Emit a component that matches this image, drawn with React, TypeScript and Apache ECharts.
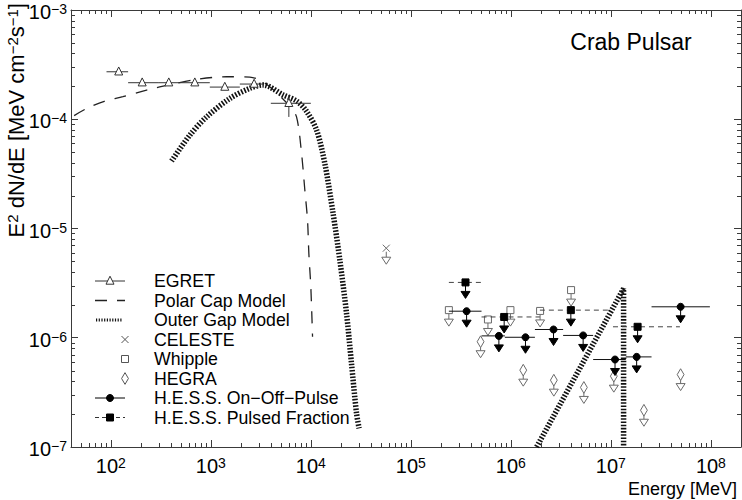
import React, { useEffect, useRef } from "react";
import * as echarts from "echarts";

const FONT = '"Liberation Sans", Arial, Helvetica, sans-serif';
const AXIS_COLOR = "#3a3a3a";

// ---- axes ----
const X_MIN = 40;
const X_MAX = 2e8;
const Y_MIN = 1e-7;
const Y_MAX = 1e-3;
const X_DECADES = [2, 3, 4, 5, 6, 7, 8];
const Y_DECADES = [-7, -6, -5, -4, -3];
const X_MINOR_DECADES = [1, 2, 3, 4, 5, 6, 7];
const Y_MINOR_DECADES = [-7, -6, -5, -4];
const MINOR_STEPS = [2, 3, 4, 5, 6, 7, 8, 9];

// ---- EGRET ----
const EGRET_E = [120, 206, 380, 692, 1380, 2710, 6030];
const EGRET_F = [2.72e-4, 2.16e-4, 2.16e-4, 2.16e-4, 1.97e-4, 2.1e-4, 1.4e-4];
const EGRET_E_LO = [90.6, 149, 297, 490, 977, 1950, 3980];
const EGRET_E_HI = [149, 297, 490, 977, 1950, 3330, 10000];
const EGRET_F_LO = [2.72e-4, 2.16e-4, 2.16e-4, 2.16e-4, 1.97e-4, 2.1e-4, 1.05e-4];
const EGRET_F_HI = [2.72e-4, 2.16e-4, 2.16e-4, 2.16e-4, 1.97e-4, 2.1e-4, 1.67e-4];

// ---- Polar Cap Model ----
const POLAR_E = [43, 58, 86, 132, 228, 417, 719, 1435, 2455, 3467, 6026, 7194, 8072, 8710, 9268, 9550, 10000, 10400];
const POLAR_F = [1.08e-4, 1.26e-4, 1.46e-4, 1.61e-4, 1.85e-4, 2.1e-4, 2.32e-4, 2.45e-4, 2.43e-4, 2.15e-4, 1.35e-4, 1.05e-4, 4.9e-5, 2.25e-5, 1.19e-5, 5.96e-6, 2.9e-6, 1.02e-6];

// ---- Outer Gap Model ----
const OUTER_E = [405, 617, 906, 1549, 2455, 3334, 5284, 7194, 8913, 11400, 13800, 16700, 19500, 22750, 25500, 28640, 30400];
const OUTER_F = [4.14e-5, 7.16e-5, 1.05e-4, 1.55e-4, 1.92e-4, 2.06e-4, 1.67e-4, 1.47e-4, 1.21e-4, 8.0e-5, 3.94e-5, 1.37e-5, 5.14e-6, 1.67e-6, 5.82e-7, 2.03e-7, 1.48e-7];
const OUTER_IC_E = [1.81e6, 1.34e7, 1.34e7];
const OUTER_IC_F = [1e-7, 2.82e-6, 1e-7];

// ---- CELESTE (upper limit) ----
const CELESTE_E = [5.68e4];
const CELESTE_F = [6.6e-6];

// ---- Whipple (upper limits) ----
const WHIPPLE_E = [2.4e5, 5.9e5, 9.9e5, 1.96e6, 4.0e6];
const WHIPPLE_F = [1.79e-6, 1.47e-6, 1.79e-6, 1.76e-6, 2.73e-6];

// ---- HEGRA (upper limits) ----
const HEGRA_E = [4.98e5, 1.33e6, 2.69e6, 5.37e6, 1.07e7, 2.14e7, 4.98e7];
const HEGRA_F = [9.2e-7, 5.05e-7, 4.09e-7, 3.51e-7, 4.45e-7, 2.17e-7, 4.6e-7];

// ---- H.E.S.S. On-Off-Pulse (upper limits) ----
const HESS_ON_E = [3.61e5, 7.59e5, 1.4e6, 2.67e6, 5.28e6, 1.1e7, 1.81e7, 4.98e7];
const HESS_ON_F = [1.75e-6, 1.04e-6, 1.01e-6, 1.19e-6, 1.05e-6, 6.32e-7, 6.68e-7, 1.92e-6];
const HESS_ON_E_LO = [2.4e5, 5.09e5, 8.71e5, 1.74e6, 3.33e6, 6.65e6, 1.41e7, 2.55e7];
const HESS_ON_E_HI = [5.09e5, 8.71e5, 1.74e6, 3.33e6, 6.65e6, 1.41e7, 2.55e7, 9.77e7];

// ---- H.E.S.S. Pulsed Fraction (upper limits) ----
const HESS_PF_E = [3.52e5, 8.57e5, 3.98e6, 1.85e7];
const HESS_PF_F = [3.21e-6, 1.55e-6, 1.79e-6, 1.26e-6];
const HESS_PF_E_LO = [2.4e5, 5.09e5, 1.95e6, 1.05e7];
const HESS_PF_E_HI = [5.09e5, 1.95e6, 9.33e6, 4.9e7];

// ---- legend ----
const LEGEND_LABELS = [
  "EGRET",
  "Polar Cap Model",
  "Outer Gap Model",
  "CELESTE",
  "Whipple",
  "HEGRA",
  "H.E.S.S. On\u2212Off\u2212Pulse",
  "H.E.S.S. Pulsed Fraction",
];

type MarkerKind = "tri" | "circle" | "square" | "diamond" | "cross";

function marker(kind: MarkerKind, cx: number, cy: number, s: number, fill: string, stroke: string): any {
  const lw = 1;
  switch (kind) {
    case "tri":
      return { type: "polygon", shape: { points: [[cx, cy - s * 0.6], [cx - s * 0.5, cy + s * 0.4], [cx + s * 0.5, cy + s * 0.4]] }, style: { fill, stroke, lineWidth: lw } };
    case "circle":
      return { type: "circle", shape: { cx, cy, r: s / 2 }, style: { fill, stroke, lineWidth: lw } };
    case "square":
      return { type: "rect", shape: { x: cx - s / 2, y: cy - s / 2, width: s, height: s }, style: { fill, stroke, lineWidth: lw } };
    case "diamond":
      return { type: "polygon", shape: { points: [[cx, cy - s * 0.65], [cx + s * 0.38, cy], [cx, cy + s * 0.65], [cx - s * 0.38, cy]] }, style: { fill, stroke, lineWidth: lw } };
    case "cross":
    default:
      return {
        type: "group",
        children: [
          { type: "line", shape: { x1: cx - s / 2, y1: cy - s / 2, x2: cx + s / 2, y2: cy + s / 2 }, style: { stroke, lineWidth: lw } },
          { type: "line", shape: { x1: cx - s / 2, y1: cy + s / 2, x2: cx + s / 2, y2: cy - s / 2 }, style: { stroke, lineWidth: lw } },
        ],
      };
  }
}

function upperArrow(cx: number, cy: number, startOff: number, fill: string, stroke: string): any[] {
  return [
    { type: "line", shape: { x1: cx, y1: cy + startOff, x2: cx, y2: cy + 9 }, style: { stroke, lineWidth: 1 } },
    { type: "polygon", shape: { points: [[cx - 4.5, cy + 9], [cx + 4.5, cy + 9], [cx, cy + 16]] }, style: { fill, stroke, lineWidth: 1 } },
  ];
}

interface PStyle {
  kind: MarkerKind;
  size: number;
  fill: string;
  stroke: string;
  barColor: string;
  barDash?: number[];
  ul: boolean;
  ulFill: string;
  ulStroke: string;
  ulStart: number;
}

function makeRender(st: PStyle) {
  return (params: any, api: any) => {
    const x = api.value(0);
    const y = api.value(1);
    const xlo = api.value(2);
    const xhi = api.value(3);
    const ylo = api.value(4);
    const yhi = api.value(5);
    const c = api.coord([x, y]);
    const children: any[] = [];
    if (xlo > 0 && xhi > 0 && xlo !== xhi) {
      const a = api.coord([xlo, y]);
      const b = api.coord([xhi, y]);
      children.push({ type: "line", shape: { x1: a[0], y1: c[1], x2: b[0], y2: c[1] }, style: { stroke: st.barColor, lineWidth: 1, lineDash: st.barDash || null } });
    }
    if (ylo > 0 && yhi > 0 && ylo !== yhi) {
      const a = api.coord([x, ylo]);
      const b = api.coord([x, yhi]);
      children.push({ type: "line", shape: { x1: c[0], y1: a[1], x2: c[0], y2: b[1] }, style: { stroke: st.barColor, lineWidth: 1 } });
    }
    if (st.ul) children.push(...upperArrow(c[0], c[1], st.ulStart, st.ulFill, st.ulStroke));
    children.push(marker(st.kind, c[0], c[1], st.size, st.fill, st.stroke));
    return { type: "group", children };
  };
}

function rows(E: number[], F: number[], ELo?: number[], EHi?: number[], FLo?: number[], FHi?: number[]) {
  return E.map((e, i) => [e, F[i], ELo ? ELo[i] : e, EHi ? EHi[i] : e, FLo ? FLo[i] : F[i], FHi ? FHi[i] : F[i]]);
}

function supText(exp: number) {
  return exp < 0 ? "\u2212" + Math.abs(exp) : String(exp);
}

function makeFormatter(decades: number[]) {
  return (v: number) => {
    const l = Math.log10(v);
    const e = Math.round(l);
    if (Math.abs(l - e) > 1e-6 || decades.indexOf(e) < 0) return "";
    return `{b|10}{s|${supText(e)}}`;
  };
}

const labelRich = {
  b: { fontSize: 20, fontFamily: FONT, color: "#000", lineHeight: 20, verticalAlign: "bottom" },
  s: { fontSize: 14, fontFamily: FONT, color: "#000", lineHeight: 10, verticalAlign: "top" },
};

function tickSeries(values: number[][], axis: "x" | "y") {
  return {
    type: "custom",
    coordinateSystem: "cartesian2d",
    silent: true,
    clip: false,
    z: 10,
    data: values,
    encode: { x: 0, y: 1 },
    renderItem: (params: any, api: any) => {
      const cs = params.coordSys;
      const p = api.coord([api.value(0), api.value(1)]);
      const len = 4;
      const st = { stroke: AXIS_COLOR, lineWidth: 1 };
      if (axis === "x") {
        const px = Math.round(p[0]) + 0.5;
        const yb = cs.y + cs.height;
        const yt = cs.y;
        return {
          type: "group",
          children: [
            { type: "line", shape: { x1: px, y1: yb, x2: px, y2: yb - len }, style: st },
            { type: "line", shape: { x1: px, y1: yt, x2: px, y2: yt + len }, style: st },
          ],
        };
      }
      const py = Math.round(p[1]) + 0.5;
      const xl = cs.x;
      const xr = cs.x + cs.width;
      return {
        type: "group",
        children: [
          { type: "line", shape: { x1: xl, y1: py, x2: xl + len, y2: py }, style: st },
          { type: "line", shape: { x1: xr, y1: py, x2: xr - len, y2: py }, style: st },
        ],
      };
    },
  };
}

function buildLegend(): any[] {
  const els: any[] = [];
  const y0 = 281;
  const step = 19.5;
  const lx1 = 95;
  const lx2 = 125;
  const mid = 110;
  const px = 125;
  LEGEND_LABELS.forEach((label, i) => {
    const y = y0 + i * step;
    els.push({
      type: "text",
      x: 154,
      y,
      style: { text: label, fontSize: 17.7, fontFamily: FONT, fill: "#000", align: "left", verticalAlign: "middle" },
    });
    if (i === 0) {
      els.push({ type: "line", shape: { x1: lx1, y1: y, x2: lx2, y2: y }, style: { stroke: "#333", lineWidth: 1 } });
      els.push(marker("tri", mid, y, 8, "#fff", "#333"));
    } else if (i === 1) {
      els.push({ type: "line", shape: { x1: lx1, y1: y, x2: lx2, y2: y }, style: { stroke: "#222", lineWidth: 1.3, lineDash: [12, 10] } });
    } else if (i === 2) {
      els.push({ type: "line", shape: { x1: lx1 + 1, y1: y, x2: lx2 - 2, y2: y }, style: { stroke: "#111", lineWidth: 3, lineDash: [1.2, 1.5] } });
    } else if (i === 3) {
      els.push(marker("cross", px, y, 7, "none", "#555"));
    } else if (i === 4) {
      els.push(marker("square", px, y, 7, "none", "#555"));
    } else if (i === 5) {
      els.push(marker("diamond", px, y, 9, "none", "#555"));
    } else if (i === 6) {
      els.push({ type: "line", shape: { x1: lx1, y1: y, x2: lx2, y2: y }, style: { stroke: "#000", lineWidth: 1 } });
      els.push(marker("circle", mid, y, 7, "#000", "#000"));
    } else {
      els.push({ type: "line", shape: { x1: lx1, y1: y, x2: lx2, y2: y }, style: { stroke: "#333", lineWidth: 1, lineDash: [4, 3] } });
      els.push(marker("square", mid, y, 7, "#000", "#000"));
    }
  });
  return els;
}

export default function App() {
  const ref = useRef<HTMLDivElement>(null);

  useEffect(() => {
    if (!ref.current) return;
    const chart = echarts.init(ref.current, null, { renderer: "svg" });

    const xMinor: number[][] = [];
    X_MINOR_DECADES.forEach((d) =>
      MINOR_STEPS.forEach((m) => {
        const v = m * Math.pow(10, d);
        if (v > X_MIN && v < X_MAX) xMinor.push([v, 1e-5]);
      })
    );
    const yMinor: number[][] = [];
    Y_MINOR_DECADES.forEach((d) =>
      MINOR_STEPS.forEach((m) => {
        const v = m * Math.pow(10, d);
        if (v > Y_MIN && v < Y_MAX) yMinor.push([1000, v]);
      })
    );

    const axisBase = {
      type: "log",
      logBase: 10,
      splitNumber: 5,
      axisLine: { show: true, onZero: false, lineStyle: { color: AXIS_COLOR, width: 1 } },
      axisTick: { show: true, inside: true, length: 7, lineStyle: { color: AXIS_COLOR, width: 1 } },
      minorTick: { show: false },
      splitLine: { show: false },
      minorSplitLine: { show: false },
    };

    const openGray = "#6a6a6a";

    const option: any = {
      animation: false,
      backgroundColor: "#fff",
      textStyle: { fontFamily: FONT },
      grid: { left: 71, top: 10, width: 670, height: 437, containLabel: false, outerBoundsMode: "none" },
      xAxis: [
        {
          ...axisBase,
          position: "bottom",
          min: X_MIN,
          max: X_MAX,
          axisLabel: { show: true, formatter: makeFormatter(X_DECADES), showMinLabel: false, showMaxLabel: false, margin: 9, rich: labelRich, hideOverlap: false },
        },
        { ...axisBase, position: "top", min: X_MIN, max: X_MAX, axisLabel: { show: false } },
      ],
      yAxis: [
        {
          ...axisBase,
          position: "left",
          min: Y_MIN,
          max: Y_MAX,
          axisLabel: { show: true, formatter: makeFormatter(Y_DECADES), margin: 4, padding: [4, 0, 0, 0], rich: labelRich, hideOverlap: false },
        },
        { ...axisBase, position: "right", min: Y_MIN, max: Y_MAX, axisLabel: { show: false } },
      ],
      series: [
        tickSeries(xMinor, "x"),
        tickSeries(yMinor, "y"),
        {
          type: "line",
          name: "Polar Cap Model",
          data: POLAR_E.map((e, i) => [e, POLAR_F[i]]),
          symbol: "none",
          smooth: 0.3,
          lineStyle: { color: "#222", width: 1.3, type: [12, 10] },
          z: 3,
        },
        {
          type: "line",
          name: "Outer Gap Model",
          data: OUTER_E.map((e, i) => [e, OUTER_F[i]]),
          symbol: "none",
          smooth: 0.3,
          lineStyle: { color: "#111", width: 5.5, type: [1.6, 1.6], cap: "butt" },
          z: 3,
        },
        {
          type: "line",
          name: "Outer Gap Model IC",
          data: OUTER_IC_E.map((e, i) => [e, OUTER_IC_F[i]]),
          symbol: "none",
          lineStyle: { color: "#111", width: 5.5, type: [1.6, 1.6], cap: "butt" },
          z: 3,
        },
        {
          type: "custom",
          name: "EGRET",
          coordinateSystem: "cartesian2d",
          data: rows(EGRET_E, EGRET_F, EGRET_E_LO, EGRET_E_HI, EGRET_F_LO, EGRET_F_HI),
          encode: { x: 0, y: 1 },
          renderItem: makeRender({ kind: "tri", size: 8, fill: "#fff", stroke: "#333", barColor: "#333", ul: false, ulFill: "none", ulStroke: "#333", ulStart: 0 }),
          z: 4,
        },
        {
          type: "custom",
          name: "CELESTE",
          coordinateSystem: "cartesian2d",
          data: rows(CELESTE_E, CELESTE_F),
          encode: { x: 0, y: 1 },
          renderItem: makeRender({ kind: "cross", size: 7, fill: "none", stroke: openGray, barColor: openGray, ul: true, ulFill: "#fff", ulStroke: openGray, ulStart: 3.5 }),
          z: 4,
        },
        {
          type: "custom",
          name: "Whipple",
          coordinateSystem: "cartesian2d",
          data: rows(WHIPPLE_E, WHIPPLE_F),
          encode: { x: 0, y: 1 },
          renderItem: makeRender({ kind: "square", size: 7, fill: "#fff", stroke: openGray, barColor: openGray, ul: true, ulFill: "#fff", ulStroke: openGray, ulStart: 3.5 }),
          z: 4,
        },
        {
          type: "custom",
          name: "HEGRA",
          coordinateSystem: "cartesian2d",
          data: rows(HEGRA_E, HEGRA_F),
          encode: { x: 0, y: 1 },
          renderItem: makeRender({ kind: "diamond", size: 9, fill: "#fff", stroke: openGray, barColor: openGray, ul: true, ulFill: "#fff", ulStroke: openGray, ulStart: 5.5 }),
          z: 4,
        },
        {
          type: "custom",
          name: "H.E.S.S. Pulsed Fraction",
          coordinateSystem: "cartesian2d",
          data: rows(HESS_PF_E, HESS_PF_F, HESS_PF_E_LO, HESS_PF_E_HI),
          encode: { x: 0, y: 1 },
          renderItem: makeRender({ kind: "square", size: 7, fill: "#000", stroke: "#000", barColor: "#444", barDash: [5, 4], ul: true, ulFill: "#000", ulStroke: "#000", ulStart: 0 }),
          z: 5,
        },
        {
          type: "custom",
          name: "H.E.S.S. On-Off-Pulse",
          coordinateSystem: "cartesian2d",
          data: rows(HESS_ON_E, HESS_ON_F, HESS_ON_E_LO, HESS_ON_E_HI),
          encode: { x: 0, y: 1 },
          renderItem: makeRender({ kind: "circle", size: 7, fill: "#000", stroke: "#000", barColor: "#111", ul: true, ulFill: "#000", ulStroke: "#000", ulStart: 0 }),
          z: 5,
        },
      ],
      graphic: {
        elements: [
          ...buildLegend(),
          {
            type: "text",
            x: 631,
            y: 42,
            style: { text: "Crab Pulsar", fontSize: 23, fontFamily: FONT, fill: "#000", align: "center", verticalAlign: "middle" },
          },
          {
            type: "text",
            x: 737,
            y: 489,
            style: { text: "Energy [MeV]", fontSize: 18, fontFamily: FONT, fill: "#000", align: "right", verticalAlign: "middle" },
          },
          {
            type: "text",
            x: 16,
            y: 3,
            rotation: Math.PI / 2,
            style: {
              text: "{n|E}{s|2}{n| dN/dE [MeV cm}{s|\u22122}{n|s}{s|\u22121}{n|]}",
              align: "right",
              verticalAlign: "middle",
              fill: "#000",
              fontFamily: FONT,
              fontSize: 22,
              rich: {
                n: { fontSize: 22, fontFamily: FONT, fill: "#000", color: "#000", lineHeight: 22, verticalAlign: "bottom" },
                s: { fontSize: 15, fontFamily: FONT, fill: "#000", color: "#000", lineHeight: 11, verticalAlign: "top" },
              },
            },
          },
        ],
      },
    };

    chart.setOption(option);
    return () => {
      chart.dispose();
    };
  }, []);

  return <div ref={ref} style={{ position: "fixed", left: 0, top: 0, width: 742, height: 500, background: "#fff" }} />;
}
